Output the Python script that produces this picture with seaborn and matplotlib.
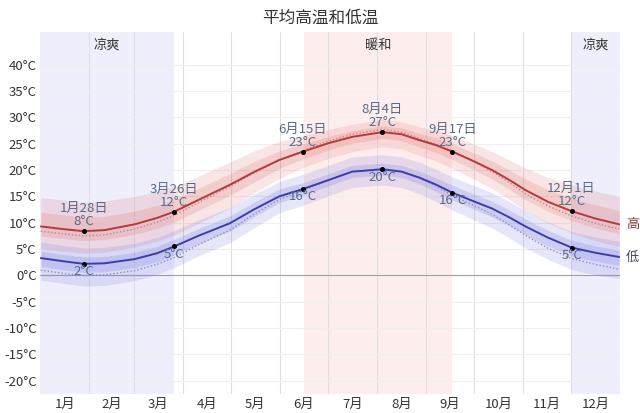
import numpy as np
import pandas as pd
import matplotlib
matplotlib.use("Agg")
import matplotlib.pyplot as plt
import seaborn as sns
from matplotlib.transforms import blended_transform_factory

# ---------------- data ----------------
days = [1, 15, 28, 41, 60, 74, 85, 100, 120, 135, 151, 166, 182, 197, 216,
        228, 239, 250, 260, 274, 285, 296, 306, 320, 335, 350, 365]
high = [9.3, 8.8, 8.4, 8.6, 9.7, 10.9, 12.1, 14.3, 17.2, 19.6, 21.9, 23.5, 25.1, 26.3, 27.2,
        26.8, 25.7, 24.7, 23.5, 21.6, 20.0, 18.1, 16.2, 14.0, 12.2, 10.8, 9.7]
high_p90 = [14.8, 14.3, 13.9, 14.1, 15.0, 15.9, 16.9, 18.8, 21.5, 23.6, 25.4, 26.5, 27.7, 28.7, 29.6,
            29.2, 28.2, 27.5, 26.5, 24.9, 23.5, 21.9, 20.4, 18.6, 17.2, 16.0, 15.0]
high_p75 = [12.0, 11.5, 11.0, 11.2, 12.2, 13.3, 14.4, 16.5, 19.3, 21.6, 23.6, 25.0, 26.4, 27.5, 28.4,
            28.0, 27.0, 26.1, 25.0, 23.2, 21.7, 20.0, 18.3, 16.3, 14.7, 13.4, 12.3]
high_p25 = [7.5, 7.0, 6.6, 6.8, 7.8, 8.9, 10.1, 12.3, 15.2, 17.7, 20.3, 22.1, 23.8, 25.1, 26.0,
            25.6, 24.4, 23.3, 22.0, 20.0, 18.3, 16.3, 14.4, 12.2, 10.4, 9.0, 7.9]
high_p10 = [5.1, 4.6, 4.2, 4.4, 5.4, 6.5, 7.6, 9.8, 12.8, 15.6, 18.4, 20.5, 22.2, 23.5, 24.4,
            24.0, 22.8, 21.7, 20.3, 18.2, 16.5, 14.4, 12.3, 10.0, 8.1, 6.6, 5.5]
high_feel = [8.4, 7.9, 7.5, 7.7, 8.8, 10.1, 11.4, 13.8, 16.9, 19.4, 21.9, 23.7, 25.5, 26.8, 27.7,
             27.2, 26.0, 24.9, 23.6, 21.5, 19.7, 17.6, 15.5, 13.2, 11.3, 9.9, 8.8]

low = [3.3, 2.7, 2.2, 2.3, 3.1, 4.2, 5.5, 7.5, 9.9, 12.5, 15.0, 16.4, 18.1, 19.7, 20.15,
       19.7, 18.6, 17.2, 15.7, 14.0, 12.7, 11.0, 9.3, 7.2, 5.3, 4.3, 3.5]
low_p90 = [6.3, 5.7, 5.2, 5.3, 6.1, 7.2, 8.5, 10.5, 12.9, 15.4, 17.8, 19.2, 20.9, 22.5, 22.9,
           22.5, 21.5, 20.1, 18.7, 17.0, 15.7, 14.0, 12.3, 10.2, 8.3, 7.3, 6.5]
low_p75 = [4.6, 4.0, 3.5, 3.6, 4.4, 5.5, 6.8, 8.9, 11.3, 13.9, 16.4, 17.6, 19.3, 20.9, 21.3,
           20.9, 19.8, 18.5, 17.1, 15.4, 14.1, 12.4, 10.7, 8.6, 6.7, 5.6, 4.8]
low_p25 = [1.7, 1.1, 0.6, 0.7, 1.5, 2.6, 3.9, 6.0, 8.4, 11.1, 13.8, 15.2, 17.0, 18.6, 19.05,
           18.6, 17.4, 15.9, 14.3, 12.5, 11.1, 9.4, 7.7, 5.6, 3.7, 2.7, 1.9]
low_p10 = [-0.9, -1.5, -2.0, -1.9, -1.0, 0.2, 1.5, 3.7, 6.2, 9.0, 11.9, 13.3, 15.1, 16.7, 17.15,
           16.7, 15.5, 14.0, 12.4, 10.5, 9.0, 7.1, 5.2, 3.1, 1.1, 0.1, -0.6]
low_feel = [1.0, 0.4, 0.0, 0.1, 0.9, 2.1, 3.4, 5.8, 8.6, 11.6, 14.4, 16.2, 18.0, 19.7, 20.2,
            19.7, 18.5, 16.9, 15.2, 13.2, 11.6, 9.6, 7.6, 5.2, 3.2, 2.1, 1.2]

# annotated points
ann_days = [28, 85, 166, 216, 260, 335]
ann_dates = ["1月28日", "3月26日", "6月15日", "8月4日", "9月17日", "12月1日"]
ann_high = [8, 12, 23, 27, 23, 12]
ann_low = [2, 5, 16, 20, 16, 5]

# seasons
cool_spans = [(0.5, 85), (334.5, 365.5)]
warm_spans = [(166.5, 260)]
cool_label = "凉爽"
warm_label = "暖和"

month_labels = ["1月", "2月", "3月", "4月", "5月", "6月", "7月", "8月", "9月", "10月", "11月", "12月"]
month_lengths = [31, 28, 31, 30, 31, 30, 31, 31, 30, 31, 30, 31]
yticks = [-20, -15, -10, -5, 0, 5, 10, 15, 20, 25, 30, 35, 40]
title = "平均高温和低温"

# ---------------- plotting ----------------
sns.set_theme(style="white")
plt.rcParams['font.family'] = ['Noto Sans CJK SC', 'DejaVu Sans']

fig = plt.figure(figsize=(6.4, 4.13), dpi=100)
ax = fig.add_axes([40 / 640, 1 - 394 / 413, 580 / 640, 362 / 413])

df = pd.DataFrame({"day": days, "high": high, "low": low,
                   "high_feel": high_feel, "low_feel": low_feel})

# season shading
for a, b in cool_spans:
    ax.axvspan(a, b, color="#eeeefc", zorder=0, lw=0)
for a, b in warm_spans:
    ax.axvspan(a, b, color="#fdeeed", zorder=0, lw=0)

# grid
bounds = np.cumsum([0] + month_lengths) + 0.5
for b in bounds[1:-1]:
    ax.axvline(b, color="#e0e0e0", lw=0.8, zorder=1)
for t in yticks:
    ax.axhline(t, color="#efefef" if t != 0 else "#a0a0a0", lw=0.8, zorder=1)

# bands
red = (0.87, 0.38, 0.38)
blue = (0.40, 0.40, 0.87)
ax.fill_between(days, high_p10, high_p90, color=red, alpha=0.16, lw=0, zorder=2)
ax.fill_between(days, high_p25, high_p75, color=red, alpha=0.19, lw=0, zorder=2)
ax.fill_between(days, low_p10, low_p90, color=blue, alpha=0.16, lw=0, zorder=2)
ax.fill_between(days, low_p25, low_p75, color=blue, alpha=0.19, lw=0, zorder=2)

# feels-like dotted lines
sns.lineplot(data=df, x="day", y="high_feel", ax=ax, color="#c98585", lw=1.0,
             linestyle=(0, (1, 1.5)), zorder=3)
sns.lineplot(data=df, x="day", y="low_feel", ax=ax, color="#8e8ec4", lw=1.0,
             linestyle=(0, (1, 1.5)), zorder=3)

# main lines
sns.lineplot(data=df, x="day", y="high", ax=ax, color="#b53a3a", lw=1.4, zorder=4)
sns.lineplot(data=df, x="day", y="low", ax=ax, color="#3d3daa", lw=1.4, zorder=4)

# annotation points
lab_col = "#566a88"
for d, ds, hv, lv in zip(ann_days, ann_dates, ann_high, ann_low):
    yh = np.interp(d, days, high)
    yl = np.interp(d, days, low)
    ax.plot([d], [yh], "o", color="black", ms=2.6, zorder=5)
    ax.plot([d], [yl], "o", color="black", ms=2.6, zorder=5)
    ax.annotate(f"{ds}\n{hv}°C", (d, yh), xytext=(0, 2), textcoords="offset points",
                ha="center", va="bottom", fontsize=9.5, color=lab_col, linespacing=1.0, zorder=6)
    ax.annotate(f"{lv}°C", (d, yl), xytext=(0, -1), textcoords="offset points",
                ha="center", va="top", fontsize=9.5, color=lab_col, zorder=6)

# season labels
trans = blended_transform_factory(ax.transData, ax.transAxes)
for a, b in cool_spans:
    ax.text((a + b) / 2, 0.963, cool_label, transform=trans, ha="center", va="center",
            fontsize=9.5, color="#333333")
for a, b in warm_spans:
    ax.text((a + b) / 2, 0.963, warm_label, transform=trans, ha="center", va="center",
            fontsize=9.5, color="#333333")

# end labels
ax.annotate("高", (days[-1], high[-1]), xytext=(5, 0), textcoords="offset points",
            ha="left", va="center", fontsize=9.5, color="#8a3535", annotation_clip=False)
ax.annotate("低", (days[-1], low[-1]), xytext=(5, 0), textcoords="offset points",
            ha="left", va="center", fontsize=9.5, color="#454560", annotation_clip=False)

# axes
ax.set_xlim(0.5, 365.5)
ax.set_ylim(-22.5, 46.2)
centers = [(bounds[i] + bounds[i + 1]) / 2 for i in range(12)]
ax.set_xticks(centers)
ax.set_xticklabels(month_labels)
ax.set_yticks(yticks)
ax.set_yticklabels([f"{t}°C" for t in yticks])
ax.tick_params(axis="both", length=0, labelsize=9.5, colors="#333333", pad=2.5)
ax.set_xlabel("")
ax.set_ylabel("")
for s in ax.spines.values():
    s.set_visible(False)
ax.set_facecolor("white")

fig.text(0.5, 1 - 18 / 413, title, ha="center", va="center", fontsize=12, color="#333333")

fig.savefig("out.png", dpi=100)
